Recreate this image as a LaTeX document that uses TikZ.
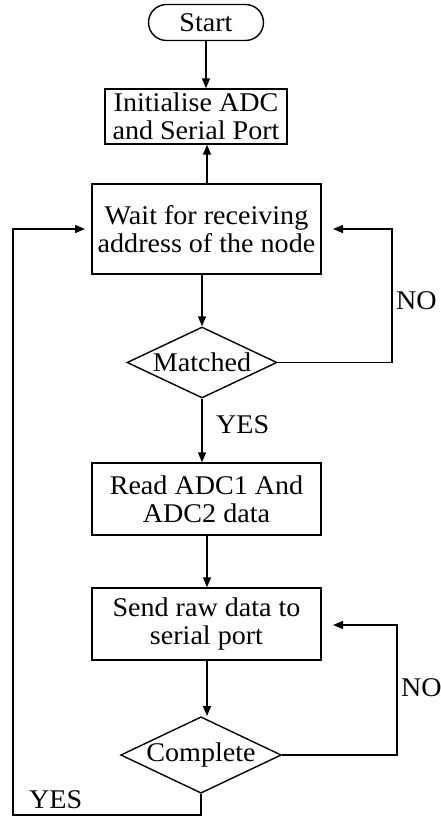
\documentclass[tikz,border=0pt]{standalone}
\usepackage{fontspec}
\setmainfont{Liberation Serif}[FakeStretch=1.04]
\usetikzlibrary{arrows.meta,shapes.geometric,shapes.misc}
\begin{document}
\begin{tikzpicture}[x=1pt,y=-1pt,
  every node/.style={font=\fontsize{27}{28}\selectfont},
  base/.style={draw,line width=1.4pt,inner sep=0pt,align=center},
  procbox/.style={base,rectangle,minimum width=229pt},
  termbox/.style={base,rounded rectangle,minimum width=115pt,minimum height=36pt},
  decbox/.style={base,diamond,aspect=2.1,minimum width=150pt,minimum height=71pt},
  conn/.style={line width=1.4pt},
  arr/.style={conn,-{Triangle[length=10pt,width=8pt]}},
  lbl/.style={anchor=west,inner sep=0pt}]
\useasboundingbox (0,0) rectangle (441,816);
\node[termbox] (start) at (206,22.5) {Start};
\node[procbox,minimum width=182pt,minimum height=55pt] (init) at (196,116.5) {Initialise ADC\\and Serial Port};
\node[procbox,minimum height=90pt] (wait) at (206.5,229) {Wait for receiving\\address of the node};
\node[decbox] (match) at (202,362.5) {Matched};
\node[procbox,minimum height=72pt] (read) at (206.5,499) {Read ADC1 And\\ADC2 data};
\node[procbox,minimum height=72pt] (send) at (206.5,624) {Send raw data to\\serial port};
\node[decbox,minimum height=70pt] (comp) at (201,755) {Complete};

\coordinate (waitR) at (333,229);
\coordinate (waitL) at (85,229);
\coordinate (sendR) at (333,625);
\coordinate (r1) at (392,362.5);
\coordinate (r2) at (397,755);
\coordinate (b1) at (201,815);
\coordinate (b2) at (13,815);

\draw[arr] (start.south) -- (start.south |- init.north);
\draw[arr] (207,184) coordinate (wtop) -- (wtop |- init.south);
\draw[arr] (wait.south -| match.north) -- (match.north);
\draw[arr] (match.south) -- (match.south |- read.north);
\draw[arr] (207,535) coordinate (rbot) -- (rbot |- send.north);
\draw[arr] (207,660) coordinate (sbot) -- (sbot |- comp.north);

\draw[arr] (match.east) -- (r1) |- (waitR);
\draw[arr] (comp.east) -- (r2) |- (sendR);
\draw[arr] (comp.south) -- (b1) -- (b2) |- (waitL);

\node[lbl] (no1) at (396,301) {NO};
\node[lbl] (no2) at (401,688) {NO};
\node[lbl] (yes1) at (216,425) {YES};
\node[lbl] (yes2) at (29,800) {YES};
\end{tikzpicture}
\end{document}
